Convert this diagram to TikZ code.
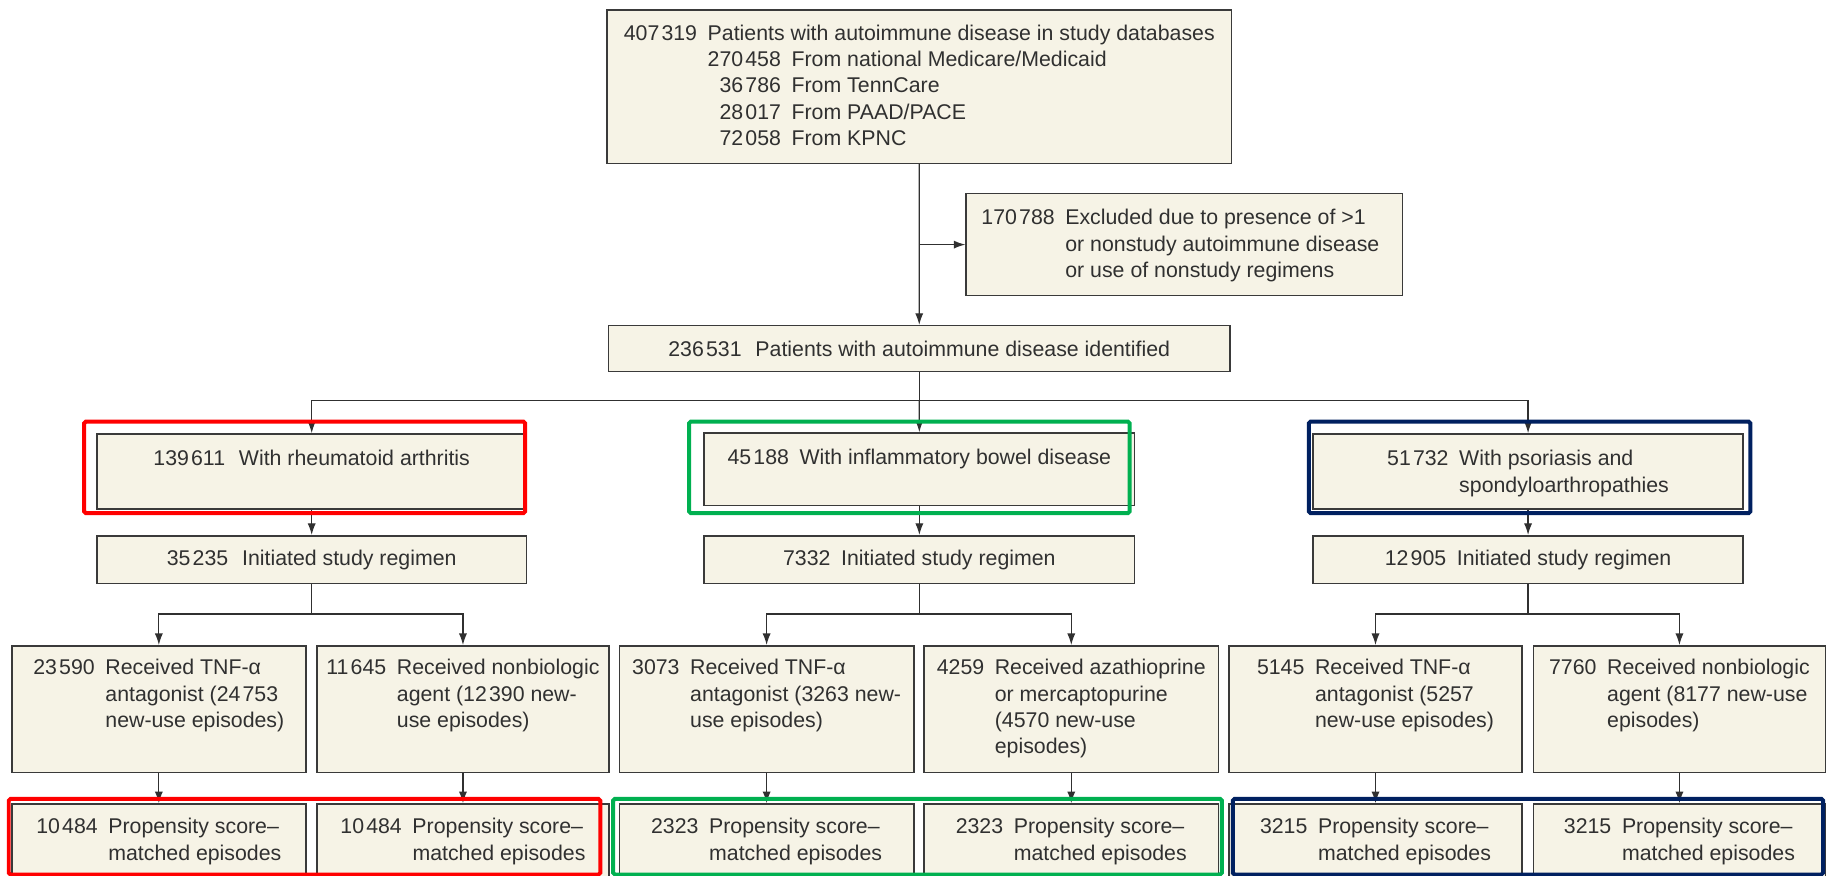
\documentclass[tikz,border=0pt]{standalone}
\usepackage{fontspec}
\setmainfont{Liberation Sans}
\usetikzlibrary{arrows.meta}
\definecolor{cream}{HTML}{F6F3E6}
\definecolor{edge}{HTML}{3A3A3A}
\definecolor{ink}{HTML}{303030}
\definecolor{frred}{HTML}{FF0000}
\definecolor{frgreen}{HTML}{00B050}
\definecolor{frnavy}{HTML}{002060}
\newcommand{\ts}{\hspace{0.1em}}
\newcommand{\gap}{\hspace{0.5em}}
\begin{document}
\begin{tikzpicture}[x=1pt,y=-1pt,
  box/.style={draw=edge, fill=cream, line width=1.3pt, inner sep=0pt, anchor=north west},
  txt/.style={inner sep=0pt, text=ink, font=\fontsize{18.3}{22.6}\selectfont},
  arr/.style={draw=ink, line width=1.1pt, -{Latex[length=10pt,width=7pt]}},
  ln/.style={draw=ink, line width=1.1pt},
  frame/.style={line width=3.4pt, rounded corners=1.5pt}]
\clip (0,0) rectangle (1568,752);
\fill[white] (0,0) rectangle (1568,752);

% top box
\node[box, minimum width=536.5pt, minimum height=131.7pt] (top) at (520.5,8) {};
\node[txt, anchor=base] (topt) at ([yshift=-26.4pt]top.north) {\begin{tabular}[t]{@{}r@{\gap}l@{}}
407\ts319 & Patients with autoimmune disease in study databases\\
 & \begin{tabular}[t]{@{}r@{\gap}l@{}}270\ts458 & From national Medicare/Medicaid\\
 36\ts786 & From TennCare\\
 28\ts017 & From PAAD/PACE\\
 72\ts058 & From KPNC\end{tabular}
\end{tabular}};

% exclusion box
\node[box, minimum width=374.7pt, minimum height=87.8pt] (excl) at (829,165.5) {};
\node[txt, anchor=base west] (exclt) at (842.6,193) {\begin{tabular}[t]{@{}r@{\gap}l@{}}
170\ts788 & Excluded due to presence of >1\\
 & or nonstudy autoimmune disease\\
 & or use of nonstudy regimens\end{tabular}};

% identified
\node[box, minimum width=533.4pt, minimum height=39.3pt] (b236) at (522,279) {};
\node[txt] (b236t) at (b236.center) {236\ts531\hspace{0.65em}Patients with autoimmune disease identified};

% group boxes
\node[box, minimum width=369pt, minimum height=64.5pt] (ra) at (82.5,372) {};
\node[txt, anchor=base] (rat) at ([yshift=-28pt]ra.north) {139\ts611\hspace{0.65em}With rheumatoid arthritis};
\node[box, minimum width=369.6pt, minimum height=62.4pt] (ibd) at (604,371.2) {};
\node[txt, anchor=base] (ibdt) at ([yshift=-28pt]ibd.north) {45\ts188\gap With inflammatory bowel disease};
\node[box, minimum width=369pt, minimum height=64.5pt] (psa) at (1127,372) {};
\node[txt, anchor=base] (psat) at ([yshift=-28pt]psa.north) {\begin{tabular}[t]{@{}r@{\gap}l@{}}
51\ts732 & With psoriasis and\\ & spondyloarthropathies\end{tabular}};

% initiated
\node[box, minimum width=369pt, minimum height=41pt] (rai) at (82.5,459.4) {};
\node[txt] (rait) at (rai.center) {35\ts235\hspace{0.65em}Initiated study regimen};
\node[box, minimum width=369.6pt, minimum height=41pt] (ibdi) at (604,459.4) {};
\node[txt] (ibdit) at (ibdi.center) {7332\gap Initiated study regimen};
\node[box, minimum width=369pt, minimum height=41pt] (psai) at (1127,459.4) {};
\node[txt] (psait) at (psai.center) {12\ts905\gap Initiated study regimen};

% received
\node[box, minimum width=252.5pt, minimum height=108.8pt] (ra1) at (9.5,553.9) {};
\node[box, minimum width=250.8pt, minimum height=108.8pt] (ra2) at (271.5,553.9) {};
\node[box, minimum width=252.7pt, minimum height=108.8pt] (ibd1) at (531.3,553.9) {};
\node[box, minimum width=252.7pt, minimum height=108.8pt] (ibd2) at (792.9,553.9) {};
\node[box, minimum width=252pt, minimum height=108.8pt] (psa1) at (1054.5,553.9) {};
\node[box, minimum width=251pt, minimum height=108.8pt] (psa2) at (1316,553.9) {};

\node[txt, anchor=base] (ra1t) at ([yshift=-25.6pt]ra1.north) {\begin{tabular}[t]{@{}r@{\gap}l@{}}
23\ts590 & Received TNF-α\\ & antagonist (24\ts753\\ & new-use episodes)\end{tabular}};
\node[txt, anchor=base] (ra2t) at ([yshift=-25.6pt]ra2.north) {\begin{tabular}[t]{@{}r@{\gap}l@{}}
11\ts645 & Received nonbiologic\\ & agent (12\ts390 new-\\ & use episodes)\end{tabular}};
\node[txt, anchor=base] (ibd1t) at ([yshift=-25.6pt]ibd1.north) {\begin{tabular}[t]{@{}r@{\gap}l@{}}
3073 & Received TNF-α\\ & antagonist (3263 new-\\ & use episodes)\end{tabular}};
\node[txt, anchor=base] (ibd2t) at ([yshift=-25.6pt]ibd2.north) {\begin{tabular}[t]{@{}r@{\gap}l@{}}
4259 & Received azathioprine\\ & or mercaptopurine\\ & (4570 new-use\\ & episodes)\end{tabular}};
\node[txt, anchor=base] (psa1t) at ([yshift=-25.6pt]psa1.north) {\begin{tabular}[t]{@{}r@{\gap}l@{}}
5145 & Received TNF-α\\ & antagonist (5257\\ & new-use episodes)\end{tabular}};
\node[txt, anchor=base] (psa2t) at ([yshift=-25.6pt]psa2.north) {\begin{tabular}[t]{@{}r@{\gap}l@{}}
7760 & Received nonbiologic\\ & agent (8177 new-use\\ & episodes)\end{tabular}};

% matched
\node[box, minimum width=252.5pt, minimum height=75pt] (ra1b) at (9.5,689.7) {};
\node[box, minimum width=250.8pt, minimum height=75pt] (ra2b) at (271.5,689.7) {};
\node[box, minimum width=252.7pt, minimum height=75pt] (ibd1b) at (531.3,689.7) {};
\node[box, minimum width=252.7pt, minimum height=75pt] (ibd2b) at (792.9,689.7) {};
\node[box, minimum width=252pt, minimum height=75pt] (psa1b) at (1054.5,689.7) {};
\node[box, minimum width=251pt, minimum height=75pt] (psa2b) at (1316,689.7) {};

\node[txt, anchor=base] (ra1bt) at ([yshift=-26.3pt]ra1b.north) {\begin{tabular}[t]{@{}r@{\gap}l@{}}
10\ts484 & Propensity score–\\ & matched episodes\end{tabular}};
\node[txt, anchor=base] (ra2bt) at ([yshift=-26.3pt]ra2b.north) {\begin{tabular}[t]{@{}r@{\gap}l@{}}
10\ts484 & Propensity score–\\ & matched episodes\end{tabular}};
\node[txt, anchor=base] (ibd1bt) at ([yshift=-26.3pt]ibd1b.north) {\begin{tabular}[t]{@{}r@{\gap}l@{}}
2323 & Propensity score–\\ & matched episodes\end{tabular}};
\node[txt, anchor=base] (ibd2bt) at ([yshift=-26.3pt]ibd2b.north) {\begin{tabular}[t]{@{}r@{\gap}l@{}}
2323 & Propensity score–\\ & matched episodes\end{tabular}};
\node[txt, anchor=base] (psa1bt) at ([yshift=-26.3pt]psa1b.north) {\begin{tabular}[t]{@{}r@{\gap}l@{}}
3215 & Propensity score–\\ & matched episodes\end{tabular}};
\node[txt, anchor=base] (psa2bt) at ([yshift=-26.3pt]psa2b.north) {\begin{tabular}[t]{@{}r@{\gap}l@{}}
3215 & Propensity score–\\ & matched episodes\end{tabular}};

% connectors
\draw[arr] (top) -- (b236);
\coordinate (j1) at (top.south |- excl.west);
\draw[arr] (j1) -- (excl);
\coordinate (j2) at (b236.south |- 0,344);
\draw[ln] (b236.south) -- (j2);
\draw[arr] (j2) -| (ra.north);
\draw[arr] (j2) -| (psa.north);
\draw[arr] (j2) -- (ibd.north);
\draw[arr] (ra) -- (rai);
\draw[arr] (ibd) -- (ibdi);
\draw[arr] (psa) -- (psai);

\coordinate (j3) at (rai.south |- 0,527.3);
\draw[ln] (rai.south) -- (j3);
\draw[arr] (j3) -| (ra1.north);
\draw[arr] (j3) -| (ra2.north);
\coordinate (j4) at (ibdi.south |- 0,527.3);
\draw[ln] (ibdi.south) -- (j4);
\draw[arr] (j4) -| (ibd1.north);
\draw[arr] (j4) -| (ibd2.north);
\coordinate (j5) at (psai.south |- 0,527.3);
\draw[ln] (psai.south) -- (j5);
\draw[arr] (j5) -| (psa1.north);
\draw[arr] (j5) -| (psa2.north);

\draw[arr] (ra1) -- (ra1b);
\draw[arr] (ra2) -- (ra2b);
\draw[arr] (ibd1) -- (ibd1b);
\draw[arr] (ibd2) -- (ibd2b);
\draw[arr] (psa1) -- (psa1b);
\draw[arr] (psa2) -- (psa2b);

% highlight frames
\draw[frame, frred] (72.3,362) rectangle (451,440.7);
\draw[frame, frgreen] (591.7,362) rectangle (970,440.7);
\draw[frame, frnavy] (1123.9,362) rectangle (1503,440.7);
\draw[frame, frred] (7.5,686) rectangle (515.5,751);
\draw[frame, frgreen] (526.5,686) rectangle (1049.2,751);
\draw[frame, frnavy] (1058.6,686) rectangle (1565.5,751);
\end{tikzpicture}
\end{document}
